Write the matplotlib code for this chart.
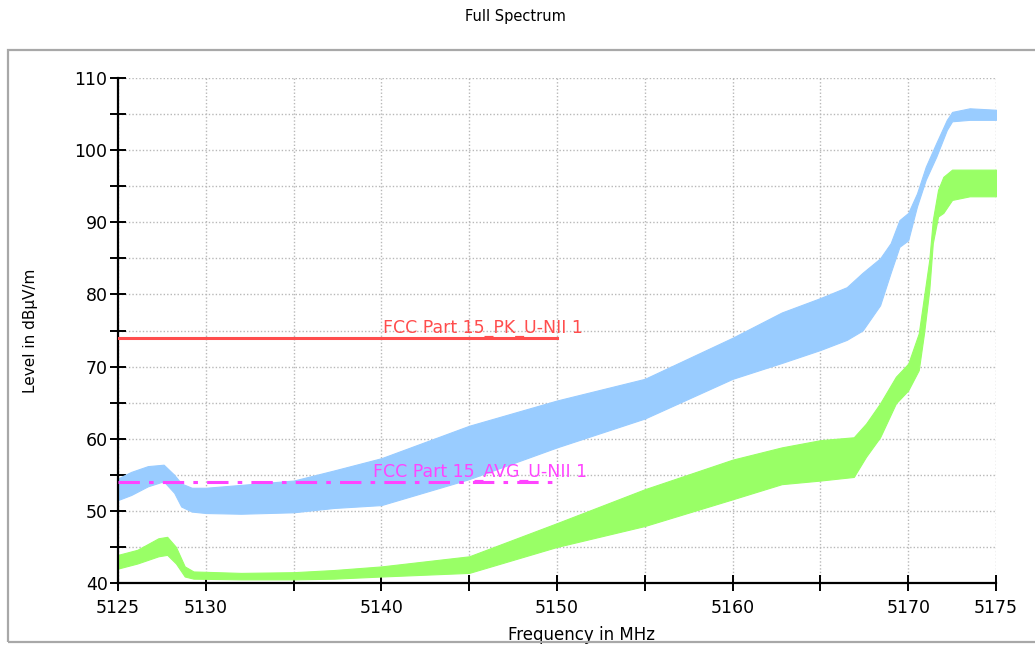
import numpy as np
import matplotlib
matplotlib.use("Agg")
import matplotlib.pyplot as plt
from matplotlib.patches import Rectangle
from matplotlib.ticker import MultipleLocator, FuncFormatter

# Peak trace (light blue) - envelope
pk_freq = [5125, 5125.75, 5126.7, 5127.6, 5128.2, 5128.6, 5129.2, 5130, 5132, 5135,
           5137.3, 5140, 5145, 5150, 5155, 5160, 5162.8, 5165, 5166.5, 5167.4,
           5168.4, 5169, 5169.5, 5170, 5170.5, 5171, 5171.6, 5172.2, 5172.5, 5173.5, 5175]
pk_upper = [54.5, 55.4, 56.2, 56.4, 55.0, 53.8, 53.2, 53.2, 53.6, 54.2,
            55.6, 57.3, 61.8, 65.3, 68.3, 74.0, 77.5, 79.5, 81.0, 83.0,
            85.0, 87.1, 90.3, 91.3, 94.0, 97.7, 101.0, 104.2, 105.3, 105.8, 105.6]
pk_lower = [51.5, 52.2, 53.4, 54.1, 52.5, 50.6, 49.9, 49.7, 49.6, 49.8,
            50.4, 50.8, 54.4, 58.8, 62.8, 68.3, 70.5, 72.3, 73.7, 75.0,
            78.5, 83.0, 86.6, 87.5, 92.2, 95.9, 99.1, 102.8, 104.0, 104.2, 104.2]

# Average trace (light green)
av_freq = [5125, 5126.1, 5127.3, 5127.8, 5128.3, 5128.8, 5129.3, 5132, 5135, 5137.3,
           5140, 5145, 5150, 5155, 5160, 5162.8, 5165, 5166.9, 5167.6, 5168.4,
           5169.3, 5170, 5170.6, 5170.9, 5171.2, 5171.4, 5171.7, 5172, 5172.5, 5173.5, 5175]
av_upper = [43.9, 44.6, 46.2, 46.4, 45.0, 42.3, 41.6, 41.4, 41.5, 41.8,
            42.3, 43.7, 48.3, 53.0, 57.1, 58.8, 59.8, 60.2, 62.1, 64.9,
            68.6, 70.4, 74.6, 79.7, 84.8, 90.3, 94.5, 96.3, 97.3, 97.3, 97.3]
av_lower = [42.0, 42.7, 43.7, 43.9, 42.7, 40.9, 40.6, 40.5, 40.5, 40.6,
            40.9, 41.4, 45.0, 47.9, 51.6, 53.7, 54.2, 54.7, 57.5, 60.2,
            64.9, 66.7, 69.5, 74.6, 80.6, 87.1, 90.8, 91.3, 93.1, 93.6, 93.6]

# Limit lines
limit_freq = [5125, 5150]
pk_limit = [74, 74]
avg_limit = [54, 54]
pk_label = "FCC Part 15_PK_U-NII 1"
avg_label = "FCC Part 15_AVG_U-NII 1"

x_labeled = [5125, 5130, 5140, 5150, 5160, 5170, 5175]
y_labeled = [40, 50, 60, 70, 80, 90, 100, 110]

fig = plt.figure(figsize=(10.35, 6.46), dpi=100)
# grey frame round the plot area (right edge runs off the image)
fig.patches.append(Rectangle((8 / 1035, 1 - 642 / 646), 1.1, (642 - 50) / 646,
                             transform=fig.transFigure, fill=False,
                             edgecolor="#a8a8a8", linewidth=1.6))
ax = fig.add_axes([118 / 1035, 1 - 583 / 646, (996 - 118) / 1035, (583 - 78) / 646])

ax.fill_between(pk_freq, pk_lower, pk_upper, color="#99ccff", linewidth=0.8,
                edgecolor="#99ccff", zorder=2)
ax.fill_between(av_freq, av_lower, av_upper, color="#99ff66", linewidth=0.8,
                edgecolor="#99ff66", zorder=2)

ax.plot(limit_freq, pk_limit, color="#ff4d4d", linewidth=2.2, zorder=3)
ax.plot(limit_freq, avg_limit, color="#ff44ff", linewidth=2.2,
        dashes=(7, 3, 1.5, 3), zorder=3)
ax.text(5145.8, 74.1, pk_label, color="#ff4d4d", fontsize=12.5,
        ha="center", va="bottom", zorder=4)
ax.text(5145.6, 54.1, avg_label, color="#ff44ff", fontsize=12.5,
        ha="center", va="bottom", zorder=4)

ax.set_xlim(5125, 5175)
ax.set_ylim(40, 110)
ax.xaxis.set_major_locator(MultipleLocator(5))
ax.yaxis.set_major_locator(MultipleLocator(5))
ax.xaxis.set_major_formatter(FuncFormatter(
    lambda v, p: "%d" % round(v) if round(v) in x_labeled else ""))
ax.yaxis.set_major_formatter(FuncFormatter(
    lambda v, p: "%d" % round(v) if round(v) in y_labeled else ""))
ax.tick_params(direction="inout", length=11, width=1.4, labelsize=12.5, pad=2)
ax.tick_params(axis="x", pad=6)

ax.grid(True, color="#b8b8b8", linestyle=(0, (1, 1.5)), linewidth=1.0, zorder=0)
ax.set_axisbelow(True)
for s in ["top", "right"]:
    ax.spines[s].set_visible(False)
for s in ["left", "bottom"]:
    ax.spines[s].set_linewidth(1.6)

ax.set_xlabel("Frequency in MHz", fontsize=12)
ax.xaxis.set_label_coords((582 - 118) / (996 - 118), -0.085)
ax.set_ylabel("Level in dBµV/m", fontsize=11)
ax.yaxis.set_label_coords((38 - 118) / (996 - 118), 0.5)

fig.text(515 / 1035, 1 - 16 / 646, "Full Spectrum", fontsize=10.5,
         ha="center", va="center")

fig.savefig("out.png", dpi=100)
